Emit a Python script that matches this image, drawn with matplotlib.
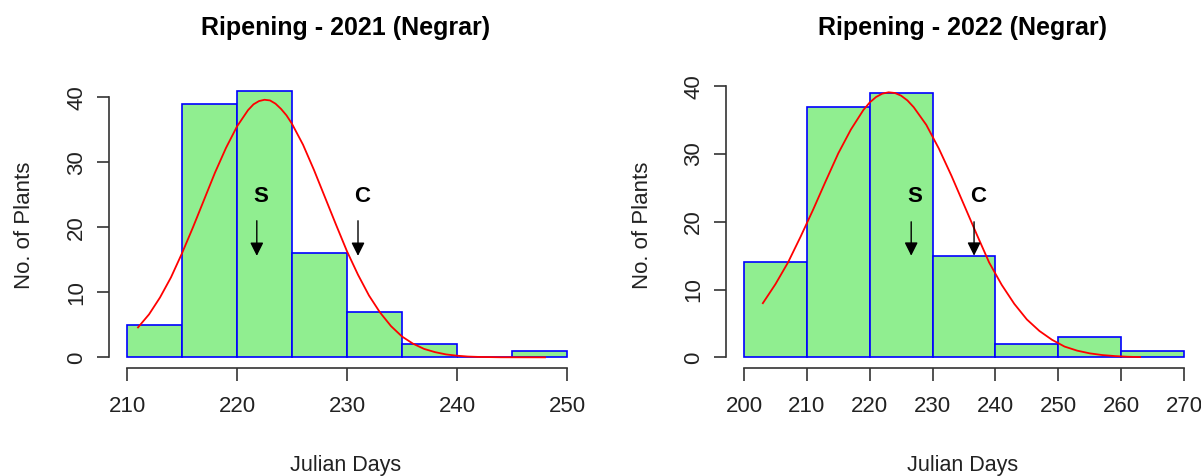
import matplotlib.pyplot as plt

W, H = 1201, 476

# bins (edges) and counts
edges_2021 = [210, 215, 220, 225, 230, 235, 240, 245, 250]
counts_2021 = [5, 39, 41, 16, 7, 2, 0, 1]
edges_2022 = [200, 210, 220, 230, 240, 250, 260, 270]
counts_2022 = [14, 37, 39, 15, 2, 3, 1]

# fitted curve
curve_x_2021 = [211, 212, 213, 214, 215, 216, 217, 218, 219, 220, 221, 221.5, 222, 222.5, 223,
                223.5, 224, 224.5, 225, 226, 227, 228, 229, 230, 231, 232, 233, 234, 235, 236,
                237, 238, 239, 240, 241, 242, 244, 248]
curve_y_2021 = [4.6, 6.6, 9.2, 12.3, 16.0, 20.0, 24.2, 28.4, 32.2, 35.5, 38.0, 38.9, 39.4, 39.6,
                39.5, 39.0, 38.2, 37.2, 35.9, 32.7, 28.8, 24.6, 20.4, 16.3, 12.7, 9.5, 6.9, 4.8,
                3.2, 2.1, 1.3, 0.8, 0.45, 0.25, 0.12, 0.06, 0.01, 0.0]
curve_x_2022 = [203, 205, 207, 209, 211, 213, 215, 217, 219, 220, 221, 222, 223, 224, 225, 226,
                227, 229, 231, 233, 235, 237, 239, 241, 243, 245, 247, 249, 251, 253, 255, 257,
                259, 261, 263]
curve_y_2022 = [8.0, 10.8, 14.0, 17.8, 21.8, 26.0, 30.1, 33.6, 36.5, 37.6, 38.4, 38.9, 39.1, 39.0,
                38.6, 37.9, 36.9, 34.3, 30.8, 26.8, 22.5, 18.2, 14.0, 10.7, 7.9, 5.6, 3.9, 2.6,
                1.6, 1.0, 0.6, 0.35, 0.2, 0.1, 0.05]

# arrow markers: (label, x, text y, arrow top, arrow tip)
marks_2021 = [("S", 221.8, 24.7, 21.0, 15.6), ("C", 231.0, 24.7, 21.0, 15.6)]
marks_2022 = [("S", 226.6, 23.7, 20.0, 15.0), ("C", 236.6, 23.7, 20.0, 15.0)]

titles = ["Ripening - 2021 (Negrar)", "Ripening - 2022 (Negrar)"]

plt.rcParams['font.family'] = ['Liberation Sans', 'DejaVu Sans']

fig = plt.figure(figsize=(W / 100, H / 100), dpi=100)


def px_rect(x0, x1, ytop, ybot):
    return [x0 / W, 1 - ybot / H, (x1 - x0) / W, (ybot - ytop) / H]


def panel(rect, edges, counts, cx, cy, marks, title, xticks, cx_title, ylab_x):
    ax = fig.add_axes(rect)
    lo, hi = edges[0], edges[-1]
    ymax = max(counts)
    dx = (hi - lo) * 0.04
    dy = ymax * 0.04
    ax.set_xlim(lo - dx, hi + dx)
    ax.set_ylim(-dy, ymax + dy)
    widths = [edges[i + 1] - edges[i] for i in range(len(counts))]
    ax.bar(edges[:-1], counts, width=widths, align='edge', color='#90EE90',
           edgecolor='#0000FF', linewidth=1.2)
    ax.plot(cx, cy, color='red', lw=1.3)
    for lab, x, ty, top, tip in marks:
        ax.text(x + 0.35 * (hi - lo) / 40, ty, lab, ha='center', va='center',
                fontsize=16, fontweight='bold')
        ax.annotate('', xy=(x, tip), xytext=(x, top),
                    arrowprops=dict(arrowstyle='-|>', color='black', lw=1.0,
                                    mutation_scale=20, shrinkA=0, shrinkB=0))
    for s in ['top', 'right']:
        ax.spines[s].set_visible(False)
    ax.spines['left'].set_bounds(0, 40)
    ax.spines['bottom'].set_bounds(lo, hi)
    for s in ['left', 'bottom']:
        ax.spines[s].set_color('#333333')
        ax.spines[s].set_linewidth(1.2)
    ax.set_yticks([0, 10, 20, 30, 40])
    ax.set_xticks(xticks)
    ax.tick_params(axis='x', length=9.5, width=1.2, color='#333333', labelsize=16,
                   labelcolor='#222222', pad=11)
    ax.tick_params(axis='y', length=9, width=1.2, color='#333333', labelsize=16,
                   labelcolor='#222222', pad=7, labelrotation=90)
    for t in ax.get_yticklabels():
        t.set_va('center')
    fig.text(cx_title / W, 1 - 28 / H, title, ha='center', va='center',
             fontsize=18, fontweight='bold')
    fig.text(cx_title / W, 1 - 465 / H, "Julian Days", ha='center', va='center',
             fontsize=15.5, color='#222222')
    fig.text(ylab_x / W, 1 - 225 / H, "No. of Plants", ha='center', va='center',
             fontsize=16, rotation=90, color='#222222')
    return ax


panel(px_rect(109.4, 584.6, 80, 368), edges_2021, counts_2021, curve_x_2021, curve_y_2021,
      marks_2021, titles[0], [210, 220, 230, 240, 250], 346, 25)
panel(px_rect(726.4, 1201.6, 82.4, 368), edges_2022, counts_2022, curve_x_2022, curve_y_2022,
      marks_2022, titles[1], [200, 210, 220, 230, 240, 250, 260, 270], 963, 643)

fig.savefig("out.png", dpi=100)
